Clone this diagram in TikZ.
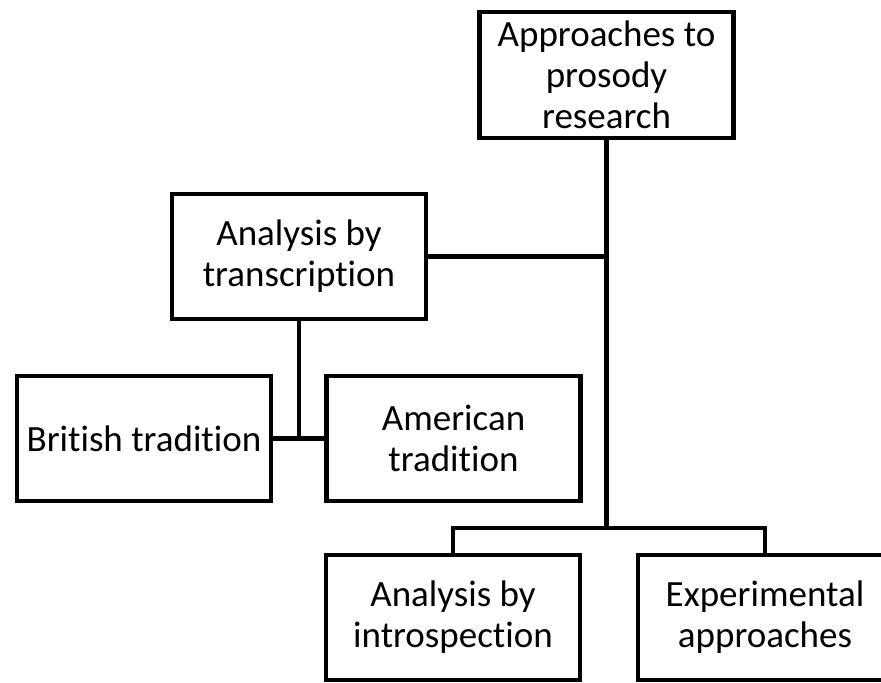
\documentclass[tikz,border=0pt]{standalone}
\usepackage{fontspec}
\setmainfont{Carlito}[Ligatures={NoCommon}]
\usepackage{tikz}

\begin{document}
\begin{tikzpicture}[x=0.5pt, y=-0.5pt,
        box/.style={draw, rectangle, line width=2.25pt, inner sep=0pt, align=center,
            minimum width=127pt, minimum height=62.5pt,
            font=\fontsize{18.5}{20.5}\selectfont},
        link/.style={line width=2.25pt}]
        \clip (0, 0) rectangle (881, 682);
        \node [box, minimum height=63pt] (prosody) at (606.5, 75) {Approaches to\\prosody\\research};
        \node [box] (trans) at (299, 256.5) {Analysis by\\transcription};
        \node [box] (british) at (144, 438.5) {British tradition};
        \node [box] (american) at (453.5, 438.5) {American\\tradition};
        \node [box] (intro) at (453, 617.5) {Analysis by\\introspection};
        \node [box] (exper) at (765, 617.5) {Experimental\\approaches};
        \coordinate (bus) at (606.5, 528);
        \coordinate (tradjoin) at (trans.south |- british.east);
        \draw [link] (prosody.south) -- (bus);
        \draw [link] (trans.east) -- (trans.east -| prosody.south);
        \draw [link] (trans.south) -- (tradjoin);
        \draw [link] (british.east) -- (american.west);
        \draw [link] (intro.north) |- (bus) -| (exper.north);
    \end{tikzpicture}
\end{document}
